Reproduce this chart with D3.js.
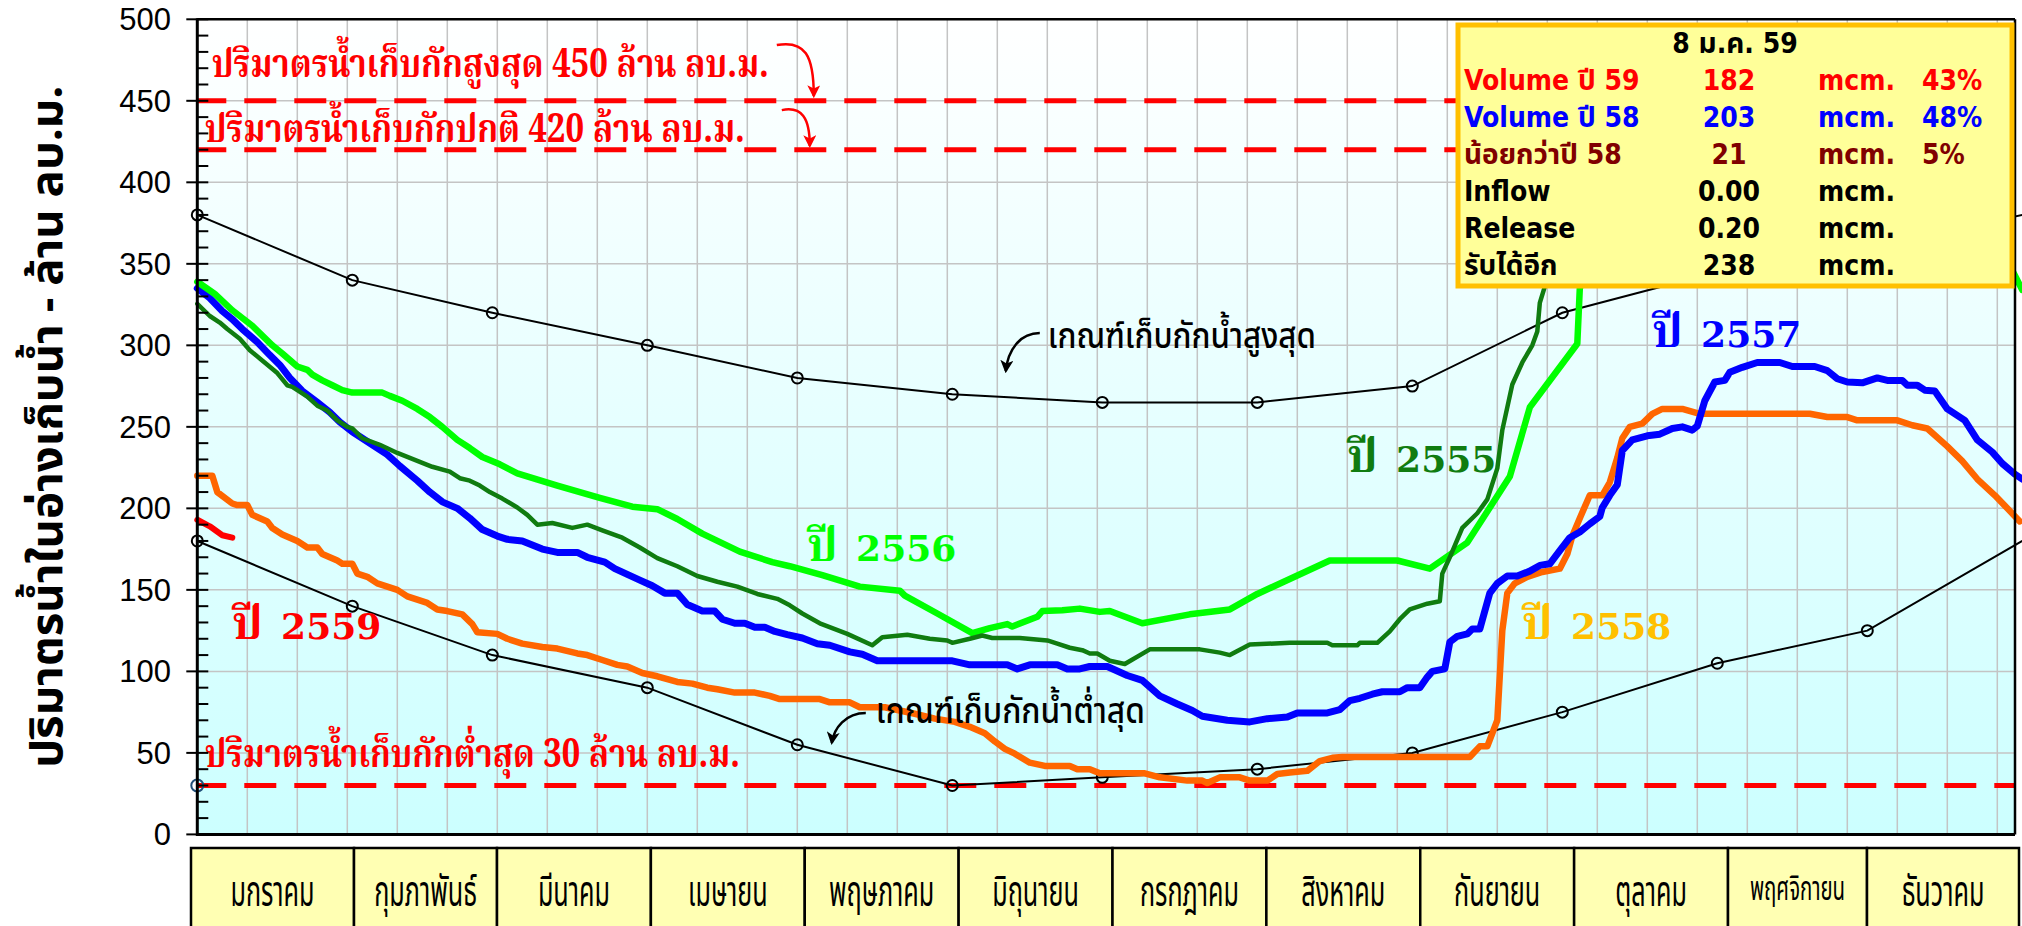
<!DOCTYPE html>
<html>
<head>
<meta charset="utf-8">
<script src="https://cdn.jsdelivr.net/npm/d3@7/dist/d3.min.js"></script>
<style>
  html, body { margin: 0; padding: 0; background: #ffffff; }
  svg { display: block; }
</style>
</head>
<body>
<svg id="chart" width="2022" height="926"></svg>
<script>
// ---------------- data ----------------
const months = ["มกราคม","กุมภาพันธ์","มีนาคม","เมษายน","พฤษภาคม","มิถุนายน",
                "กรกฎาคม","สิงหาคม","กันยายน","ตุลาคม","พฤศจิกายน","ธันวาคม"];
const yTicks = [0, 50, 100, 150, 200, 250, 300, 350, 400, 450, 500];

// rule curves (day of year, million m3) at the first day of each month
const ruleDays  = [0, 31, 59, 90, 120, 151, 181, 212, 243, 273, 304, 334, 365];
const ruleUpper = [380, 340, 320, 300, 280, 270, 265, 265, 275, 320, 345, 360, 380];
const ruleLower = [180, 140, 110, 90, 55, 30, 35, 40, 50, 75, 105, 125, 180];

// storage limits
const limitValues = [450, 420, 30];
const limitLabels = ["ปริมาตรน้ำเก็บกักสูงสุด 450 ล้าน ลบ.ม.",
                     "ปริมาตรน้ำเก็บกักปกติ 420 ล้าน ลบ.ม.",
                     "ปริมาตรน้ำเก็บกักต่ำสุด 30 ล้าน ลบ.ม."];

// daily storage by year: [day of year, volume]
const vol2555 = [[0,325.5],[2.5,318],[4.5,314],[6,310],[8.5,304],[10.5,297],[12.5,292],[16,283],[18,275.5],[19,274.5],
  [22,268.5],[24,263],[26,260],[28,254],[30,250],[31,249],[33,243],[36.5,239],[40,234],[44.5,228.5],[47,225.5],
  [50.5,222.5],[52.5,218.5],[54.5,217],[56.5,214],[58.5,210],[61,206],[64,200.5],[66,196],[68,190],[71,191],[75,188],
  [78,190],[81,186.5],[85,182],[88.5,176],[92,169.5],[96,164.5],[100,158.5],[104,155],[108,152],[112,147.5],[116,144.5],
  [118.5,140.5],[121,135.5],[124.5,129.5],[130,123],[135,116],[137,121],[142,122.5],[146.5,120],[150,119],[151,117.5],
  [154.5,120],[157,122],[159,120.5],[164.5,120.5],[170,119],[172,117],[174.5,114.5],[177,113],[178.5,111],[180,111],
  [182.5,106.5],[185.5,104.5],[190.5,113.5],[200.5,113.5],[204.5,111.5],[206.5,110],[210.5,116.5],[218.5,117.5],
  [226,117.5],[227,116],[232,116],[232.5,117.5],[236,117.5],[238.5,124.5],[240.5,132],[242.5,138],[246,141.5],
  [248.5,143],[249,160],[250.5,170],[253,188],[256,197],[258,205.5],[260,224.5],[261,248],[263,276],[265,289.5],
  [267,300],[268,308.5],[268.5,326],[269.5,336],[271,350]];

const vol2556 = [[0,339],[3.5,331.5],[7,321.5],[11,312],[13,306],[15,300],[17,295],[20,287],[22,285],[23,282],
  [25,278.5],[27,275.5],[29,272.5],[31,271],[37,271],[38.5,269],[41,266],[44,261],[46.5,256],[49,250],[52,242],
  [54.5,237],[57,231.5],[60.5,227],[64,221.5],[72,214],[80.5,206.5],[87,201],[92,199.5],[96,193.5],[101,184.5],
  [108.5,173.5],[115,167],[118.5,164.5],[125,159],[132.5,152],[140.5,149.5],[141.5,146.5],[148,135.5],[155,123.5],
  [158.5,126.5],[162,129],[163,127.5],[168,133.5],[169,137],[173,137.5],[176.5,138.5],[180.5,136.5],[182.5,137],
  [189,129.5],[198.5,135],[206.5,138],[212,147.5],[226.5,168],[240,168],[246.5,163],[254,179],[262.5,219.5],
  [266.5,262],[276,301],[276.5,335],[280,365],[290,410],[352,412],[365,334]];

const vol2557 = [[0,335],[2.5,329],[5,321],[7,316],[9,310],[12,302],[14.5,294],[16.5,288],[18.5,280],[21,272],
  [24,265],[26.5,259],[28.5,253],[31,247],[33,243],[35,239],[38,233],[40.5,226],[44,217],[46.5,210],[49,204],[52,200],
  [54.5,194],[57,187],[60,183],[62,181],[65,180],[69,175],[72,173],[76,173],[78,170],[81.5,167],[83.5,163],[86,159.5],
  [88.5,156],[91,152.5],[93.5,148],[96,148],[98,141],[101,137],[103.5,137],[105,132],[107.5,129.5],[109.5,129.5],
  [111.5,127],[113.5,127],[115.5,124.5],[118,122.5],[121,120.5],[124,117],[126.5,116],[130.5,112],[133,110.5],
  [136,106.5],[151,106.5],[154.5,104],[162,104],[164,101.5],[166.5,104],[172,104],[174,101.5],[176.5,101.5],
  [178.5,103],[182,103],[186,97.5],[189,94.5],[192.5,85],[196,80],[199,76],[201,72.5],[206,70],[210.5,69],[214,71],
  [218,72],[220,74.5],[226,74.5],[228.5,76.5],[230.5,82],[232.5,83.5],[235,86],[237,87.5],[240.5,87.5],[242,90],
  [244.5,90],[246,96.5],[247,100],[249.5,101.5],[250.5,118],[252,121.5],[254,123],[255,126],[256.5,126],[258.5,148],
  [260,154],[262,158.5],[264,158.5],[266.5,161.5],[268.5,165],[270.5,166],[272.5,174],[274.5,182],[276.5,185.5],
  [278.5,190.5],[280.5,195],[281,200.5],[282.5,208],[284,214.5],[285,235.5],[287,242],[290,244.5],[292.5,245.5],
  [295,249],[297,250],[299,248],[300,250.5],[301.5,266],[303.5,277.5],[305.5,278.5],[306.5,283.5],[309,286.5],
  [312,289.5],[316.5,289.5],[319,287],[323.5,287],[326,284.5],[328,279.5],[330,277.5],[333,277],[336,280],
  [338,278.5],[341,278.5],[342,275.5],[344,275.5],[345.5,272.5],[347.5,272],[350,261],[353.5,254],[356,242],
  [359,234.5],[361,227.5],[363.5,221],[365,218]];

const vol2558 = [[0,220],[3,220],[4,210],[7,203],[8,202],[10,202],[11,196],[14,192],[15,188],[17,184],[20,180],
  [22,176],[24,176],[25,172],[28,168],[29,166],[31,166],[32,160],[34,158],[36,154],[38,152],[40,150],[42,146],
  [44,144],[46,142],[48,138],[50,137],[53,135],[55,129],[56,124],[60,123],[62,120],[65,117],[69,115],[72,114],
  [76,111],[78,110],[81,107],[84,104],[86,103],[89,99],[92,97],[96,93.5],[99,92.5],[102,90],[104,89],[107.5,87],
  [111.5,87],[114.5,85],[116.5,83],[124.5,83],[126.5,81],[130.5,81],[132.5,78],[137.5,78],[140.5,76],[143.5,74],
  [147.5,71],[151.5,69],[154.5,66],[157.5,62],[159.5,57],[161.5,52.5],[163.5,49.5],[166.5,44],[169.5,42],
  [174.5,42],[176,40],[178.5,40],[180.5,37.5],[182.5,37.5],[189.5,37.5],[192.5,35],[198,33],[201,33],[202,31.5],
  [204.5,35],[208.5,35],[210.5,33],[214,33],[216,37],[218.5,38],[222,39],[224.5,45],[227,47],[229,47.5],
  [254.5,47.5],[256.5,54],[258,54],[260,70],[261,125],[262,148],[263.5,154],[266,158],[269,161],[272.5,163],
  [274,172],[275,183],[276.5,194],[278.5,208],[281,208],[282.5,216],[284,231],[285,243],[286.5,250],[289,252],
  [291,258],[293,261],[297,261],[300.5,258],[322.5,258],[326,256],[330,256],[332,254],[340,254],[343,251],
  [346,249],[350,238],[353,229],[356,218],[359.5,208],[362,200],[364.5,192]];

const vol2559 = [[0,193],[2.5,189],[5,183.5],[7,182]];

const seriesYears = ["2558", "2557", "2556", "2555", "2559"];
const seriesData  = [vol2558, vol2557, vol2556, vol2555, vol2559];

// summary panel
const infoDate   = "8 ม.ค. 59";
const infoLabels = ["Volume ปี 59", "Volume ปี 58", "น้อยกว่าปี 58", "Inflow", "Release", "รับได้อีก"];
const infoValues = ["182", "203", "21", "0.00", "0.20", "238"];
const infoUnits  = ["mcm.", "mcm.", "mcm.", "mcm.", "mcm.", "mcm."];
const infoPct    = ["43%", "48%", "5%", "", "", ""];

// ---------------- styling & layout ----------------
const seriesStyle = [
  { color: "#ff6600", width: 6.5, label: "#ffc000", at: [265, 120] },
  { color: "#0000ff", width: 7,   label: "#0000ff", at: [291, 299] },
  { color: "#00ff00", width: 6.5, label: "#00ff00", at: [122, 168] },
  { color: "#107c10", width: 4.5, label: "#107c10", at: [230, 222] },
  { color: "#ff0000", width: 6,   label: "#ff0000", at: [7, 120] }
];
const infoColors = ["#ff0000", "#0000ff", "#800000", "#000000", "#000000", "#000000"];

const THAI = "'Noto Sans Thai','Loma','Garuda','Tlwg Typo','Tahoma','DejaVu Sans',sans-serif";
const THAI_SERIF = "'Noto Serif Thai','Laksaman','Norasi','Noto Sans Thai','DejaVu Serif',serif";

const PL = 197.3, PT = 19.3, PB = 834.4, PR = 2015;

const svg = d3.select("#chart");
const x = d3.scaleLinear().domain([0, 365]).range([PL, PL + 365 * 5.0]);
const y = d3.scaleLinear().domain([0, 500]).range([PB, PT]);

// background
const defs = svg.append("defs");
const grad = defs.append("linearGradient").attr("id", "bgGrad")
  .attr("x1", 0).attr("y1", 0).attr("x2", 0).attr("y2", 1);
grad.append("stop").attr("offset", "0%").attr("stop-color", "#ffffff");
grad.append("stop").attr("offset", "100%").attr("stop-color", "#ccffff");

function arrowMarker(id, color) {
  defs.append("marker").attr("id", id)
    .attr("viewBox", "0 0 12 12").attr("refX", 10).attr("refY", 6)
    .attr("markerWidth", 13).attr("markerHeight", 13)
    .attr("markerUnits", "userSpaceOnUse").attr("orient", "auto")
    .append("path").attr("d", "M0,0 L12,6 L0,12 L3,6 Z").attr("fill", color);
}
arrowMarker("arrRed", "#ff0000");
arrowMarker("arrBlack", "#000000");

svg.append("rect").attr("x", PL).attr("y", PT).attr("width", PR - PL).attr("height", PB - PT)
  .attr("fill", "url(#bgGrad)");

// grid
const grid = svg.append("g").attr("stroke", "#c4c4c4").attr("stroke-width", 1.5);
grid.selectAll("line.v").data(d3.range(10, 361, 10)).join("line").attr("class", "v")
  .attr("x1", d => x(d)).attr("x2", d => x(d)).attr("y1", y(0)).attr("y2", y(500));
grid.selectAll("line.h").data(yTicks.filter(v => v > 0 && v < 500)).join("line").attr("class", "h")
  .attr("x1", PL).attr("x2", PR).attr("y1", d => y(d)).attr("y2", d => y(d));

// storage limit lines
svg.append("g").selectAll("line").data(limitValues).join("line")
  .attr("x1", x(0)).attr("x2", PR).attr("y1", d => y(d)).attr("y2", d => y(d))
  .attr("stroke", "#ff0000").attr("stroke-width", 5)
  .attr("stroke-dasharray", "32 18").attr("stroke-dashoffset", 3);

// rule curves
const ruleLine = d3.line().x((d, i) => x(ruleDays[i])).y(d => y(d));
[ruleUpper, ruleLower].forEach(r => {
  svg.append("path").attr("d", ruleLine(r)).attr("fill", "none")
    .attr("stroke", "#000").attr("stroke-width", 2);
  svg.append("g").selectAll("circle").data(r.slice(0, 12)).join("circle")
    .attr("cx", (d, i) => x(ruleDays[i])).attr("cy", d => y(d)).attr("r", 5.5)
    .attr("fill", "none").attr("stroke", "#000").attr("stroke-width", 2);
});
svg.append("circle").attr("cx", x(0)).attr("cy", y(limitValues[2])).attr("r", 6)
  .attr("fill", "none").attr("stroke", "#1f4e79").attr("stroke-width", 2);

// yearly storage lines
const line = d3.line().x(d => x(d[0])).y(d => y(d[1]));
seriesData.forEach((s, i) => {
  svg.append("path").attr("d", line(s)).attr("fill", "none")
    .attr("stroke", seriesStyle[i].color).attr("stroke-width", seriesStyle[i].width)
    .attr("stroke-linejoin", "round").attr("stroke-linecap", "round");
});

// year labels: "ปี" set larger than the serif digits
seriesYears.forEach((n, i) => {
  const t = svg.append("text").attr("x", x(seriesStyle[i].at[0])).attr("y", y(seriesStyle[i].at[1]))
    .attr("fill", seriesStyle[i].label).attr("font-weight", "bold");
  t.append("tspan").attr("font-family", THAI_SERIF).attr("font-size", 46).text("ปี");
  t.append("tspan").attr("font-family", "'DejaVu Serif',serif").attr("font-size", 36)
    .attr("dx", 6).text(" " + n);
});

// limit labels + arrows
const limitLabelAt = [[2.9, 464.6], [1.5, 424.7], [1.5, 41.3]];
const limitLabelLen = [557, 540, 535];
limitLabels.forEach((t, i) => {
  svg.append("text").attr("x", x(limitLabelAt[i][0])).attr("y", y(limitLabelAt[i][1]))
    .attr("fill", "#ff0000").attr("font-family", THAI_SERIF).attr("font-weight", "bold")
    .attr("font-size", 39).attr("textLength", limitLabelLen[i]).attr("lengthAdjust", "spacingAndGlyphs")
    .text(t);
});
function curveArrow(pts, marker, color, w) {
  const p = pts.map(d => [x(d[0]), y(d[1])]);
  svg.append("path")
    .attr("d", `M${p[0]}C${p[1]} ${p[2]} ${p[3]}`)
    .attr("fill", "none").attr("stroke", color).attr("stroke-width", w)
    .attr("marker-end", `url(#${marker})`);
}
curveArrow([[115.9, 484.2], [121.5, 487.3], [123.3, 478.1], [123.3, 452.9]], "arrRed", "#ff0000", 2.5);
curveArrow([[116.9, 444.3], [120.9, 446.8], [122.5, 439.5], [122.5, 422.3]], "arrRed", "#ff0000", 2.5);

// rule curve notes
const notes = [
  { text: "เกณฑ์เก็บกักน้ำสูงสุด", at: [170.1, 298.3], len: 268,
    arrow: [[168.5, 307.5], [164.5, 307.5], [162.1, 297.1], [161.7, 284.2]] },
  { text: "เกณฑ์เก็บกักน้ำต่ำสุด", at: [135.7, 68.3], len: 269,
    arrow: [[133.7, 74.5], [129.7, 74.5], [127.3, 65.3], [126.9, 56.1]] }
];
notes.forEach(n => {
  svg.append("text").attr("x", x(n.at[0])).attr("y", y(n.at[1]))
    .attr("fill", "#000").attr("font-family", THAI).attr("font-size", 36).attr("font-weight", 500)
    .attr("textLength", n.len).attr("lengthAdjust", "spacingAndGlyphs").text(n.text);
  curveArrow(n.arrow, "arrBlack", "#000", 2.5);
});

// frame & axis
svg.append("line").attr("x1", PL).attr("x2", PR).attr("y1", PT).attr("y2", PT)
  .attr("stroke", "#000").attr("stroke-width", 2.5);
svg.append("line").attr("x1", PR).attr("x2", PR).attr("y1", PT).attr("y2", PB)
  .attr("stroke", "#000").attr("stroke-width", 2.5);
svg.append("line").attr("x1", PL).attr("x2", PR).attr("y1", PB).attr("y2", PB)
  .attr("stroke", "#000").attr("stroke-width", 3);
svg.append("line").attr("x1", PL).attr("x2", PL).attr("y1", PT - 1).attr("y2", PB + 1.5)
  .attr("stroke", "#000").attr("stroke-width", 3);
svg.append("g").selectAll("line").data(d3.range(0, 501, 10)).join("line")
  .attr("x1", d => d % 50 === 0 ? PL - 11 : PL).attr("x2", PL + 11)
  .attr("y1", d => y(d)).attr("y2", d => y(d))
  .attr("stroke", "#000").attr("stroke-width", 2);
svg.append("g").selectAll("text").data(yTicks).join("text")
  .attr("x", 171).attr("y", d => y(d) + 11).attr("text-anchor", "end")
  .attr("font-family", "'Liberation Sans',Arial,sans-serif").attr("font-size", 31)
  .attr("fill", "#000").text(d => d);

// y axis title
svg.append("text")
  .attr("transform", `translate(62,${(y(0) + y(500)) / 2})rotate(-90)`)
  .attr("text-anchor", "middle")
  .attr("font-family", THAI).attr("font-weight", "bold").attr("font-size", 45)
  .attr("textLength", 682).attr("lengthAdjust", "spacingAndGlyphs")
  .text("ปริมาตรน้ำในอ่างเก็บน้ำ - ล้าน ลบ.ม.");

// month table
const mx = d3.scaleLinear().domain([0, 1, 2, 10, 11, 12]).range([191, 354, 497, 1728, 1867, 2019]);
const tbl = svg.append("g");
tbl.selectAll("rect").data(months).join("rect")
  .attr("x", (d, i) => mx(i)).attr("y", 848).attr("width", (d, i) => mx(i + 1) - mx(i)).attr("height", 100)
  .attr("fill", "#ffffb3").attr("stroke", "#000").attr("stroke-width", 2.5);
tbl.selectAll("text").data(months).join("text")
  .attr("transform", (d, i) => `translate(${(mx(i) + mx(i + 1)) / 2},${i === 10 ? 900 : 906})scale(0.6,1)`)
  .attr("text-anchor", "middle").attr("font-family", THAI)
  .attr("font-size", (d, i) => i === 10 ? 34 : 42).attr("fill", "#000").text(d => d);

// summary panel
const bx = 1458, by = 25, bw = 554, bh = 261;
svg.append("rect").attr("x", bx).attr("y", by).attr("width", bw).attr("height", bh)
  .attr("fill", "#ffff99").attr("stroke", "#ffc000").attr("stroke-width", 5);
const infoFont = "'DejaVu Sans Condensed','Liberation Sans',Arial," + THAI;
svg.append("text").attr("x", bx + bw / 2).attr("y", 53).attr("text-anchor", "middle")
  .attr("font-family", infoFont).attr("font-stretch", "condensed")
  .attr("font-weight", "bold").attr("font-size", 28).text(infoDate);
infoLabels.forEach((l, i) => {
  const yy = 90 + i * 37;
  const g = svg.append("g").attr("fill", infoColors[i]).attr("font-family", infoFont)
    .attr("font-stretch", "condensed").attr("font-weight", "bold").attr("font-size", 28);
  g.append("text").attr("x", 1464).attr("y", yy).text(l);
  g.append("text").attr("x", 1729).attr("y", yy).attr("text-anchor", "middle").text(infoValues[i]);
  g.append("text").attr("x", 1818).attr("y", yy).text(infoUnits[i]);
  g.append("text").attr("x", 1922).attr("y", yy).text(infoPct[i]);
});
</script>
</body>
</html>
